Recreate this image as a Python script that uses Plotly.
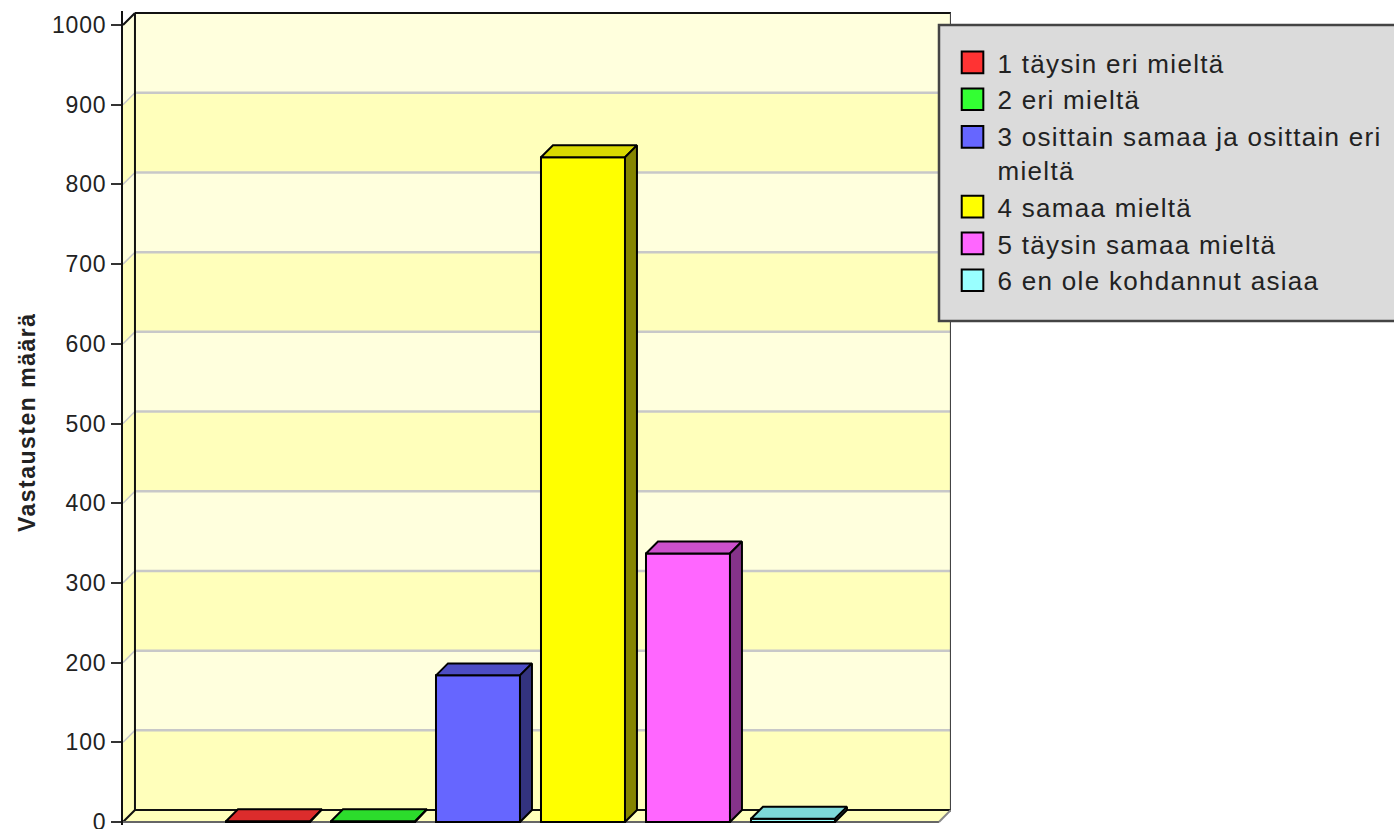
import plotly.graph_objects as go

names = [
    "1 täysin eri mieltä",
    "2 eri mieltä",
    "3 osittain samaa ja osittain eri<br>mieltä",
    "4 samaa mieltä",
    "5 täysin samaa mieltä",
    "6 en ole kohdannut asiaa",
]
positions = [1, 2, 3, 4, 5, 6]
values = [1, 1, 184, 834, 337, 4]
y_ticks = [0, 100, 200, 300, 400, 500, 600, 700, 800, 900, 1000]

front_colors = ["#FF3333", "#33FF33", "#6666FF", "#FFFF00", "#FF66FF", "#99FFFF"]
top_colors = ["#DC2C2C", "#2CDC2C", "#4D4DC4", "#D9D900", "#CC50CC", "#7DD9D9"]
side_colors = ["#8C1C1C", "#1C8C1C", "#33337F", "#858500", "#85338A", "#4F8C8C"]
band_light = "#FFFFDD"
band_dark = "#FFFFBB"
grid_color = "#C8C8C8"

BAR_W = 0.8
DX = 0.114  # depth of the fake 3d box, in axis units
DY = 15
X_MIN, X_MAX = -0.381, 7.505
X_FRONT = 7.39


def poly(points, fill, line_color="rgba(0,0,0,0)", line_width=0):
    path = "M " + " L ".join(f"{x} {y}" for x, y in points) + " Z"
    return dict(type="path", path=path, xref="x", yref="y", fillcolor=fill, layer="below",
                line=dict(color=line_color, width=line_width))


def seg(x0, y0, x1, y1, color, width=2):
    return dict(type="line", x0=x0, y0=y0, x1=x1, y1=y1, xref="x", yref="y", layer="below",
                line=dict(color=color, width=width))


shapes = []
# floor
shapes.append(poly([(X_MIN, 0), (X_FRONT, 0), (X_FRONT + DX, DY), (X_MIN + DX, DY)], band_dark))
# walls, one band per tick step
for i in range(len(y_ticks) - 1):
    lo, hi = y_ticks[i], y_ticks[i + 1]
    color = band_dark if i % 2 == 0 else band_light
    shapes.append(poly([(X_MIN + DX, lo + DY), (X_FRONT + DX, lo + DY), (X_FRONT + DX, hi + DY), (X_MIN + DX, hi + DY)], color))
    shapes.append(poly([(X_MIN, lo), (X_MIN + DX, lo + DY), (X_MIN + DX, hi + DY), (X_MIN, hi)], color))
for t in y_ticks[1:-1]:
    shapes.append(seg(X_MIN + DX, t + DY, X_FRONT + DX, t + DY, grid_color, 2.5))
    shapes.append(seg(X_MIN, t, X_MIN + DX, t + DY, grid_color, 1.5))
top = y_ticks[-1]
shapes.append(seg(X_MIN + DX, DY, X_MIN + DX, top + DY, "#111111"))
shapes.append(seg(X_MIN + DX, top + DY, X_FRONT + DX, top + DY, "#111111"))
shapes.append(seg(X_FRONT + DX, DY, X_FRONT + DX, top + DY, "#444444"))
shapes.append(seg(X_MIN + DX, DY, X_FRONT + DX, DY, "#111111"))
shapes.append(seg(X_MIN, top, X_MIN + DX, top + DY, "#111111"))
shapes.append(seg(X_MIN, 0, X_MIN + DX, DY, "#111111"))
shapes.append(seg(X_FRONT, 0, X_FRONT + DX, DY, "#888888"))
shapes.append(seg(X_MIN - 0.095, 0, X_FRONT, 0, "#666666"))
# legend box
shapes.append(dict(type="rect", xref="paper", yref="paper", x0=0.9855, x1=1.58, y0=0.6192, y1=0.9828,
                   fillcolor="#DBDBDB", line=dict(color="#444444", width=2.5), layer="above"))

fig = go.Figure()
for i in range(len(values)):
    fig.add_trace(go.Bar(x=[positions[i]], y=[values[i]], width=BAR_W, name=names[i],
                         marker=dict(color=front_colors[i], line=dict(color="#000000", width=2))))

for i in range(len(values)):
    left = positions[i] - BAR_W / 2
    right = positions[i] + BAR_W / 2
    v = values[i]
    fig.add_trace(go.Scatter(x=[left, right, right + DX, left + DX, left], y=[v, v, v + DY, v + DY, v],
                             mode="lines", fill="toself", fillcolor=top_colors[i],
                             line=dict(color="#000000", width=2), showlegend=False, hoverinfo="skip"))
    fig.add_trace(go.Scatter(x=[right, right + DX, right + DX, right, right], y=[0, DY, v + DY, v, 0],
                             mode="lines", fill="toself", fillcolor=side_colors[i],
                             line=dict(color="#000000", width=2), showlegend=False, hoverinfo="skip"))

fig.update_layout(
    width=1394,
    height=829,
    margin=dict(l=123, r=443, t=11, b=4, autoexpand=False),
    paper_bgcolor="#FFFFFF",
    plot_bgcolor="#FFFFFF",
    font=dict(family="Liberation Sans", color="#222222"),
    barmode="overlay",
    shapes=shapes,
    xaxis=dict(range=[X_MIN, X_MAX], showticklabels=False, ticks="", showgrid=False, zeroline=False, showline=False),
    yaxis=dict(range=[-3.76, 1017.6], tickvals=y_ticks, ticks="outside", ticklen=10, tickwidth=2, tickcolor="#333333",
               tickfont=dict(size=23), ticklabeloverflow="allow", showgrid=False, zeroline=False,
               showline=True, linecolor="#111111", linewidth=2),
    legend=dict(x=0.9958, y=0.9656, xanchor="left", yanchor="top", bgcolor="rgba(0,0,0,0)", borderwidth=0,
                font=dict(size=26), itemwidth=40, entrywidth=390, entrywidthmode="pixels",
                traceorder="normal", itemclick=False, itemdoubleclick=False),
    annotations=[dict(text="<b>Vastausten määrä</b>", textangle=-90, xref="paper", yref="paper",
                      x=-0.134, y=0.495, showarrow=False, font=dict(size=23))],
)

# letter spacing, larger legend swatches and the unclipped legend have no layout option
css = (
    "var s=document.createElement('style');"
    "s.textContent='.legendtext{letter-spacing:1.3px}.ytick text{letter-spacing:0.8px}"
    ".annotation-text{letter-spacing:1.5px}"
    ".legend .scrollbox{clip-path:none!important}"
    ".legendpoints path{transform:translate(25px,0) scale(1.8);vector-effect:non-scaling-stroke}"
    ".legend .traces:nth-child(3) .legendpoints path{transform:translate(25px,-16px) scale(1.8)}';"
    "document.head.appendChild(s);document.body.style.margin='0';"
)
fig.write_html("out.html", config={"displayModeBar": False}, post_script=css)
